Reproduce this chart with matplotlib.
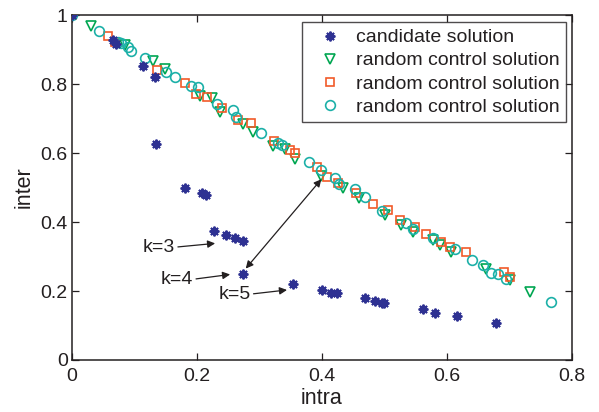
import matplotlib
matplotlib.use("Agg")
import matplotlib.pyplot as plt

plt.rcParams['font.family'] = ['Liberation Sans', 'DejaVu Sans']

# ---- data ----
cand_x = [0.0, 0.065, 0.070, 0.113, 0.132, 0.135, 0.181, 0.208, 0.214, 0.227, 0.247, 0.261, 0.273,
          0.273, 0.354, 0.400, 0.414, 0.424, 0.469, 0.485, 0.496, 0.499, 0.561, 0.581, 0.616, 0.678]
cand_y = [1.0, 0.928, 0.916, 0.851, 0.819, 0.626, 0.500, 0.483, 0.477, 0.375, 0.361, 0.354, 0.345,
          0.250, 0.220, 0.203, 0.195, 0.193, 0.179, 0.172, 0.166, 0.164, 0.147, 0.137, 0.128, 0.106]

tri_x = [0.0, 0.030, 0.084, 0.130, 0.148, 0.204, 0.224, 0.237, 0.274, 0.290, 0.322, 0.340, 0.356,
         0.398, 0.434, 0.459, 0.501, 0.526, 0.545, 0.578, 0.589, 0.606, 0.663, 0.701, 0.732]
tri_y = [1.0, 0.967, 0.914, 0.868, 0.843, 0.764, 0.758, 0.720, 0.684, 0.662, 0.620, 0.613, 0.582,
         0.533, 0.499, 0.469, 0.420, 0.391, 0.372, 0.348, 0.333, 0.314, 0.263, 0.232, 0.198]

sq_x = [0.0, 0.057, 0.069, 0.136, 0.180, 0.198, 0.216, 0.240, 0.266, 0.287, 0.323, 0.348, 0.357,
        0.392, 0.408, 0.425, 0.455, 0.481, 0.505, 0.525, 0.549, 0.566, 0.590, 0.605, 0.630, 0.691, 0.701]
sq_y = [1.0, 0.940, 0.923, 0.842, 0.803, 0.771, 0.763, 0.729, 0.696, 0.686, 0.636, 0.610, 0.601,
        0.558, 0.531, 0.512, 0.483, 0.451, 0.435, 0.406, 0.386, 0.364, 0.341, 0.327, 0.314, 0.256, 0.241]

circ_x = [0.0, 0.043, 0.073, 0.078, 0.089, 0.095, 0.116, 0.151, 0.165, 0.190, 0.201, 0.232, 0.257,
          0.263, 0.303, 0.330, 0.336, 0.379, 0.398, 0.420, 0.427, 0.452, 0.468, 0.496, 0.534, 0.546,
          0.578, 0.612, 0.640, 0.658, 0.670, 0.682, 0.694, 0.766]
circ_y = [1.0, 0.955, 0.923, 0.919, 0.906, 0.897, 0.875, 0.834, 0.819, 0.793, 0.790, 0.742, 0.725,
          0.705, 0.659, 0.630, 0.623, 0.575, 0.551, 0.527, 0.509, 0.495, 0.473, 0.432, 0.396, 0.380,
          0.353, 0.321, 0.290, 0.275, 0.253, 0.249, 0.234, 0.169]

series_labels = ['candidate solution', 'random control solution',
                 'random control solution', 'random control solution']

# annotations: label, text anchor (x, y), arrow tip (x, y)
ann_labels = ['k=3', 'k=4', 'k=5']
ann_text_xy = [(0.165, 0.327), (0.194, 0.234), (0.286, 0.191)]
ann_tip_xy = [(0.229, 0.338), (0.253, 0.248), (0.344, 0.203)]
dbl_start = (0.278, 0.265)
dbl_end = (0.399, 0.524)

xticks = [0, 0.2, 0.4, 0.6, 0.8]
xticklabels = ['0', '0.2', '0.4', '0.6', '0.8']
yticks = [0, 0.2, 0.4, 0.6, 0.8, 1.0]
yticklabels = ['0', '0.2', '0.4', '0.6', '0.8', '1']

# ---- figure ----
txt = '#231f20'
fig = plt.figure(figsize=(5.99, 4.12), dpi=100)
ax = fig.add_axes([72/599, 52/412, 500/599, 345/412])

ax.plot(cand_x, cand_y, linestyle='none', marker=(8, 2, 0), markersize=7, mew=1.4,
        color='#2e3192', label=series_labels[0], zorder=5)
ax.plot(tri_x, tri_y, linestyle='none', marker='v', markersize=7.5, mew=1.2,
        mfc='none', mec='#00a651', label=series_labels[1], zorder=3)
ax.plot(sq_x, sq_y, linestyle='none', marker='s', markersize=5.5, mew=1.2,
        mfc='none', mec='#f15a29', label=series_labels[2], zorder=3)
ax.plot(circ_x, circ_y, linestyle='none', marker='o', markersize=7, mew=1.2,
        mfc='none', mec='#1cb0a8', label=series_labels[3], zorder=3)

for lab, txy, tip in zip(ann_labels, ann_text_xy, ann_tip_xy):
    ax.annotate(lab, xy=tip, xytext=txy, ha='right', va='center', fontsize=14, color=txt,
                arrowprops=dict(arrowstyle='-|>', color=txt, lw=0.9, mutation_scale=11,
                                shrinkA=0, shrinkB=0, relpos=(1, 0.5)))
ax.annotate('', xy=dbl_end, xytext=dbl_start,
            arrowprops=dict(arrowstyle='<|-|>', color=txt, lw=0.9, mutation_scale=11,
                            shrinkA=0, shrinkB=0))

ax.set_xlim(0, 0.8)
ax.set_ylim(0, 1)
ax.set_xticks(xticks)
ax.set_xticklabels(xticklabels)
ax.set_yticks(yticks)
ax.set_yticklabels(yticklabels)
ax.tick_params(direction='in', top=True, right=True, length=5, width=0.9,
               labelsize=14, colors=txt)
ax.tick_params(axis='x', pad=6)
ax.tick_params(axis='y', pad=3)
for s in ax.spines.values():
    s.set_color(txt)
    s.set_linewidth(1.1)
ax.set_xlabel('intra', fontsize=15.5, color=txt, labelpad=2)
ax.set_ylabel('inter', fontsize=15.5, color=txt, labelpad=4)

leg = ax.legend(loc='upper right', bbox_to_anchor=(566/599, (412-22)/412),
                bbox_transform=fig.transFigure, fontsize=14, frameon=True,
                fancybox=False, edgecolor=txt, borderpad=0.35, handletextpad=0.2,
                labelspacing=0.28, handlelength=2.2, borderaxespad=0)
leg.get_frame().set_linewidth(1.0)
for t in leg.get_texts():
    t.set_color(txt)

fig.savefig('out.png', dpi=100)
